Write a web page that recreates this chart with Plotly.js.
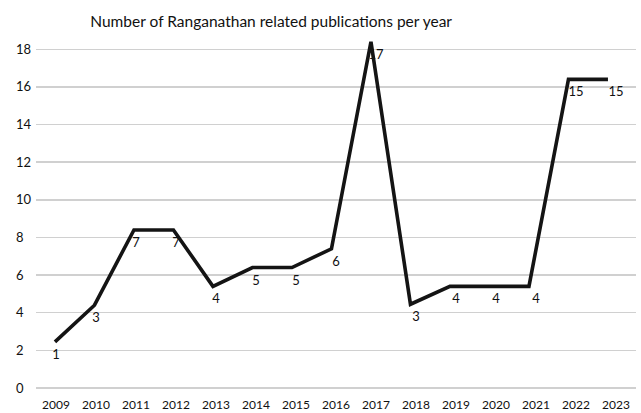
<!DOCTYPE html>
<html>
<head>
<meta charset="utf-8">
<script src="https://cdn.plot.ly/plotly-3.0.1.min.js"></script>
<style>html,body{margin:0;padding:0;background:#fff;}#chart{width:641px;height:413px;}</style>
</head>
<body>
<div id="chart"></div>
<script>
// Category labels (x axis)
const years = ['2009','2010','2011','2012','2013','2014','2015','2016','2017','2018','2019','2020','2021','2022','2023'];
// Data labels shown under each point
const counts = [1, 3, 7, 7, 4, 5, 5, 6, 17, 3, 4, 4, 4, 15, 15];
const lineLevels = [2.45, 4.4, 8.4, 8.4, 5.4, 6.4, 6.4, 7.4, 18.4, 4.45, 5.4, 5.4, 5.4, 16.4, 16.4];
// Y-axis ticks
const yTickVals = [0, 2, 4, 6, 8, 10, 12, 14, 16, 18];
const yTickText = ['0\u2007', '2\u2007', '4\u2007', '6\u2007', '8\u2007', '10', '12', '14', '16', '18'];
const chartTitle = 'Number of Ranganathan related publications per year';

const FONT = 'Lato, "Open Sans", sans-serif';
const INK = '#111';

// The line in the picture is drawn slightly narrower than the category labels,
// so it sits on an overlaying category axis with a slightly wider range.
const lineTrace = {
  type: 'scatter',
  mode: 'lines',
  x: years,
  y: lineLevels,
  xaxis: 'x2',
  line: {color: '#141414', width: 3.6},
  cliponaxis: false,
  hoverinfo: 'skip'
};

const labelTrace = {
  type: 'scatter',
  mode: 'markers+text',
  x: years,
  y: lineLevels,
  text: counts.map(String),
  textposition: 'bottom center',
  textfont: {family: FONT, size: 13, color: INK},
  marker: {size: 10, opacity: 0, color: '#fff'},
  cliponaxis: false,
  hoverinfo: 'skip'
};

const layout = {
  width: 641,
  height: 413,
  margin: {l: 36, r: 5, t: 38, b: 25, pad: 0},
  paper_bgcolor: '#fff',
  plot_bgcolor: '#fff',
  showlegend: false,
  font: {family: FONT, color: INK},
  title: {
    text: chartTitle,
    font: {family: FONT, size: 15.5, color: INK},
    x: 0.423, xanchor: 'center', xref: 'container',
    y: 0.947, yanchor: 'middle', yref: 'container'
  },
  xaxis: {
    type: 'category',
    range: [-0.5, 14.5],
    showgrid: false,
    zeroline: false,
    showline: false,
    ticks: '',
    tickfont: {family: FONT, size: 12, color: INK},
    ticklabelstandoff: 8,
    fixedrange: true
  },
  xaxis2: {
    type: 'category',
    overlaying: 'x',
    range: [-0.48, 14.71],
    showgrid: false,
    zeroline: false,
    showline: false,
    showticklabels: false,
    ticks: '',
    fixedrange: true
  },
  yaxis: {
    range: [0, 18.6],
    tickvals: yTickVals,
    ticktext: yTickText,
    showgrid: true,
    gridcolor: '#d0d0d0',
    gridwidth: 1.5,
    zeroline: true,
    zerolinecolor: '#d0d0d0',
    zerolinewidth: 1.5,
    showline: false,
    ticks: '',
    tickfont: {family: FONT, size: 13, color: INK},
    ticklabelstandoff: 4,
    fixedrange: true
  }
};

Plotly.newPlot('chart', [lineTrace, labelTrace], layout, {displayModeBar: false, staticPlot: true});
</script>
</body>
</html>
